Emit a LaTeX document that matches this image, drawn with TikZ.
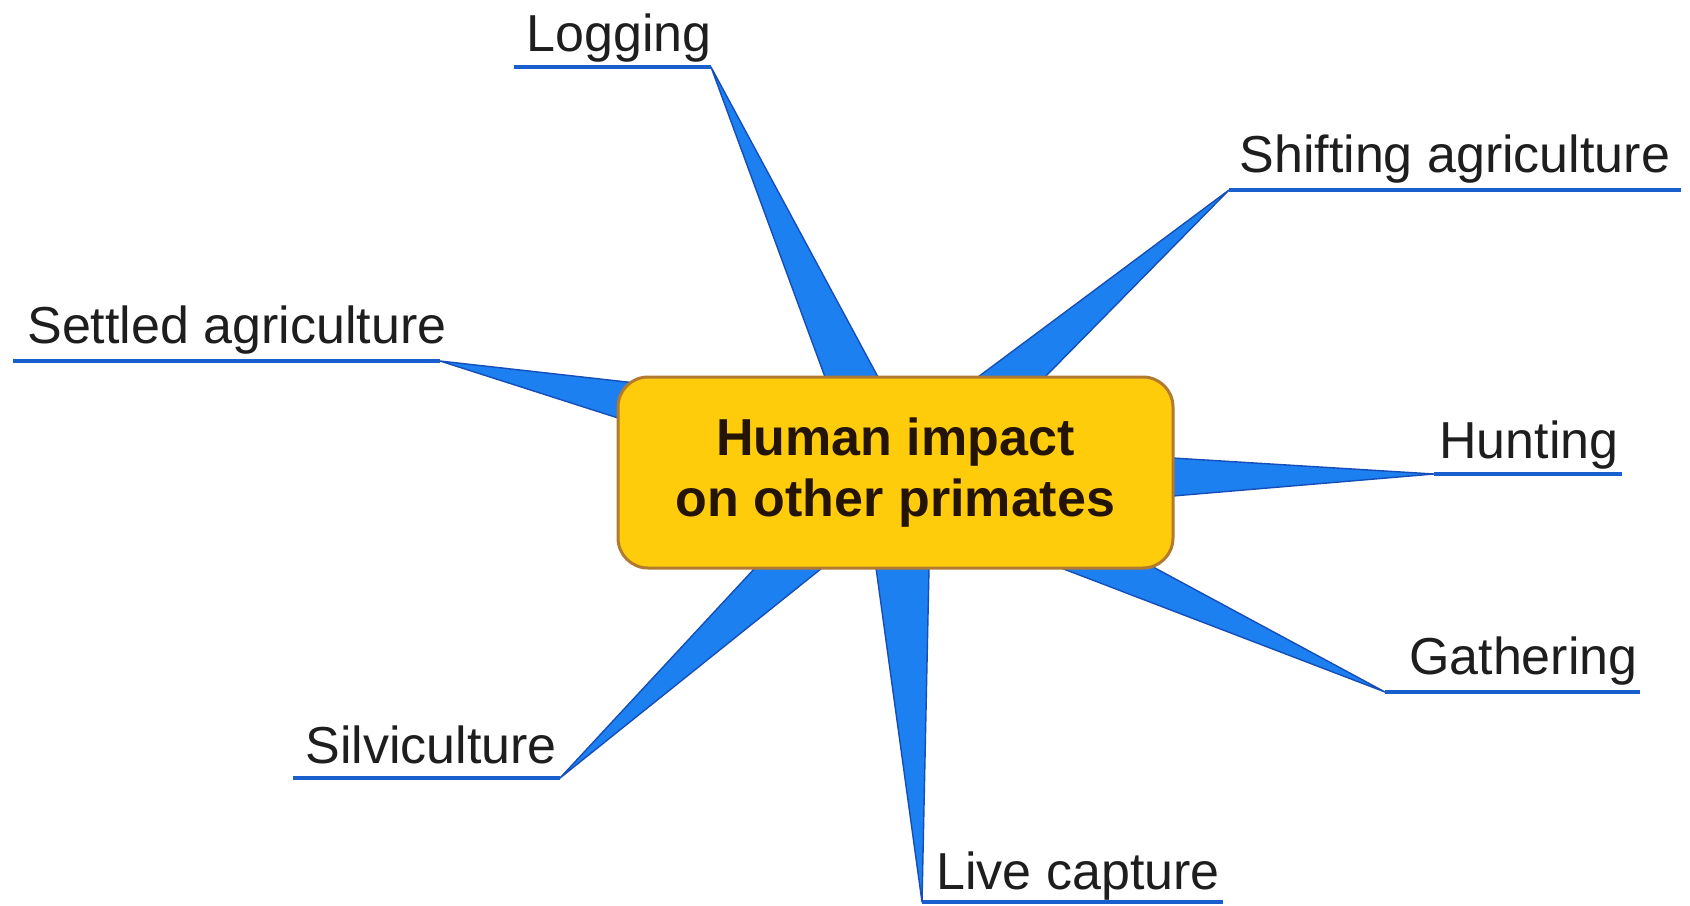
\documentclass[tikz,border=0pt]{standalone}
\usepackage{fontspec}
\setmainfont{Liberation Sans}
\usetikzlibrary{calc}
\definecolor{wedgefill}{RGB}{28,128,240}
\definecolor{wedgeedge}{RGB}{22,78,185}
\definecolor{ulinecol}{RGB}{25,95,205}
\definecolor{hubfill}{RGB}{255,204,12}
\definecolor{hubedge}{RGB}{178,122,48}
\definecolor{lblcol}{RGB}{30,30,30}
\definecolor{hubtext}{RGB}{35,20,5}
\begin{document}
\begin{tikzpicture}[x=0.5pt,y=-0.5pt,
  wedge/.style={fill=wedgefill,draw=wedgeedge,line width=0.7pt,line join=round},
  uline/.style={draw=ulinecol,line width=2pt},
  lbl/.style={inner sep=0pt,font=\fontsize{26}{31}\selectfont,text=lblcol},
  hub/.style={fill=hubfill,draw=hubedge,line width=1.5pt,rounded corners=15pt,
    minimum width=277.5pt,minimum height=95.5pt,inner sep=0pt,align=center,
    text=hubtext,font=\fontsize{26}{30.5}\selectfont\bfseries}]
\useasboundingbox (0,0) rectangle (1690,905);
\fill[white] (0,0) rectangle (1690,905);

% apex points (inner ends of underlines) and far ends
\coordinate (lgA) at (711,67);   \coordinate (lgE) at (514,67);
\coordinate (shA) at (1229,190); \coordinate (shE) at (1681,190);
\coordinate (seA) at (440,361);  \coordinate (seE) at (13,361);
\coordinate (huA) at (1434,474); \coordinate (huE) at (1622,474);
\coordinate (gaA) at (1385,692); \coordinate (gaE) at (1640,692);
\coordinate (liA) at (922,902);  \coordinate (liE) at (1223,902);
\coordinate (siA) at (560,778);  \coordinate (siE) at (293,778);

% wedge base points on the hub border
\coordinate (lg1) at (825,377);  \coordinate (lg2) at (878,377);
\coordinate (sh1) at (978,377);  \coordinate (sh2) at (1045,377);
\coordinate (se1) at (618,381);  \coordinate (se2) at (618,418);
\coordinate (hu1) at (1173,458); \coordinate (hu2) at (1173,496);
\coordinate (ga1) at (1061,568); \coordinate (ga2) at (1155,568);
\coordinate (li1) at (876,568);  \coordinate (li2) at (929,568);
\coordinate (si1) at (755,568);  \coordinate (si2) at (822,568);

% wedges
\foreach \b in {lg,sh,se,hu,ga,li,si}{
  \filldraw[wedge] (\b A) -- ($(\b A)!1.25!(\b 1)$) -- ($(\b A)!1.25!(\b 2)$) -- cycle;
}

% underlines
\foreach \b in {lg,sh,se,hu,ga,li,si}{
  \draw[uline] (\b A) -- (\b E);
}

% hub
\node[hub] (hub) at (895.5,472.5) {Human impact\\on other primates};

% labels
\node[lbl,anchor=base west] (logging) at (526,51) {Logging};
\node[lbl,anchor=base west] (shifting) at (1239,172) {Shifting agriculture};
\node[lbl,anchor=base west] (settled) at (27,343) {Settled agriculture};
\node[lbl,anchor=base east] (hunting) at (1619,458) {Hunting};
\node[lbl,anchor=base east] (gathering) at (1638,674) {Gathering};
\node[lbl,anchor=base west] (live) at (936,889) {Live capture};
\node[lbl,anchor=base west] (silvi) at (305,763) {Silviculture};
\end{tikzpicture}
\end{document}
